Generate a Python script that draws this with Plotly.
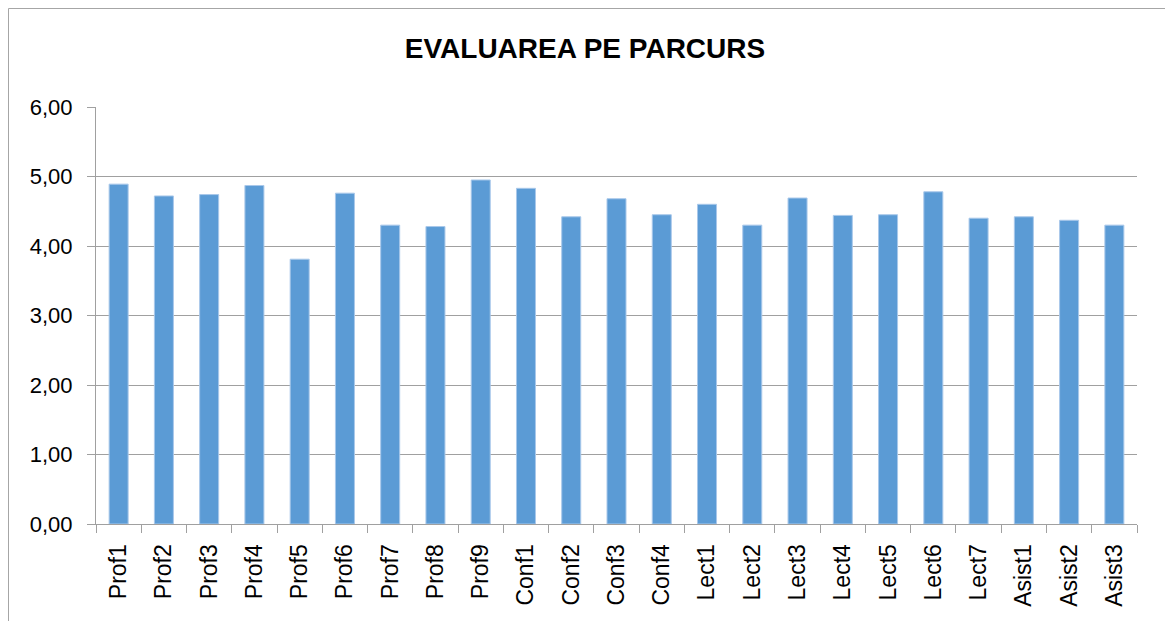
import plotly.graph_objects as go

categories = ["Prof1", "Prof2", "Prof3", "Prof4", "Prof5", "Prof6", "Prof7", "Prof8", "Prof9",
              "Conf1", "Conf2", "Conf3", "Conf4",
              "Lect1", "Lect2", "Lect3", "Lect4", "Lect5", "Lect6", "Lect7",
              "Asist1", "Asist2", "Asist3"]
values = [4.89, 4.72, 4.74, 4.87, 3.81, 4.76, 4.30, 4.28, 4.95,
          4.83, 4.42, 4.68, 4.45,
          4.60, 4.30, 4.69, 4.44, 4.45, 4.78, 4.40,
          4.42, 4.37, 4.30]
y_tickvals = [0, 1, 2, 3, 4, 5, 6]
y_ticktext = ["0,00", "1,00", "2,00", "3,00", "4,00", "5,00", "6,00"]
title_text = "EVALUAREA PE PARCURS"

# page has an 8px body margin; figure coordinates are page coordinates minus 8
W, H = 1165, 613
ml, mr, mt, mb = 88, 36, 99, 97
pw, ph = W - ml - mr, H - mt - mb

fig = go.Figure(go.Bar(
    x=categories, y=values,
    marker=dict(color="#5B9BD5", line=dict(color="#A9C8EA", width=1)),
))

def px_to_paper_x(px):
    return (px - ml) / pw

def px_to_paper_y(py):
    return 1 - (py - mt) / ph

fig.update_layout(
    width=W, height=H,
    margin=dict(l=ml, r=mr, t=mt, b=mb),
    paper_bgcolor="white", plot_bgcolor="white",
    bargap=0.58,
    showlegend=False,
    font=dict(family="Liberation Sans, Arial, sans-serif", color="black"),
    title=dict(text="<b>" + title_text + "</b>", x=577 / W, xanchor="center",
               y=1 - 40 / H, yanchor="middle",
               font=dict(size=28, family="Liberation Sans, Arial, sans-serif", color="black")),
    shapes=[dict(type="rect", xref="paper", yref="paper",
                 x0=px_to_paper_x(0.5), x1=px_to_paper_x(1157.5),
                 y0=px_to_paper_y(640), y1=px_to_paper_y(0.5),
                 line=dict(color="#A6A6A6", width=1), fillcolor="rgba(0,0,0,0)", layer="below")],
)
fig.update_xaxes(
    type="category", tickangle=-90, tickfont=dict(size=23),
    showline=True, linecolor="#A0A0A0", linewidth=1,
    ticks="outside", tickson="boundaries", ticklen=8, tickcolor="#A0A0A0",
    ticklabelstandoff=10,
    showgrid=False,
)
fig.update_yaxes(
    range=[0, 6], tickvals=y_tickvals, ticktext=y_ticktext, tickfont=dict(size=22),
    showline=True, linecolor="#A0A0A0", linewidth=1,
    ticks="outside", ticklen=8, tickcolor="#A0A0A0",
    ticklabelstandoff=10,
    showgrid=True, gridcolor="#A0A0A0", gridwidth=1, zeroline=False,
)
fig.write_html("out.html")
